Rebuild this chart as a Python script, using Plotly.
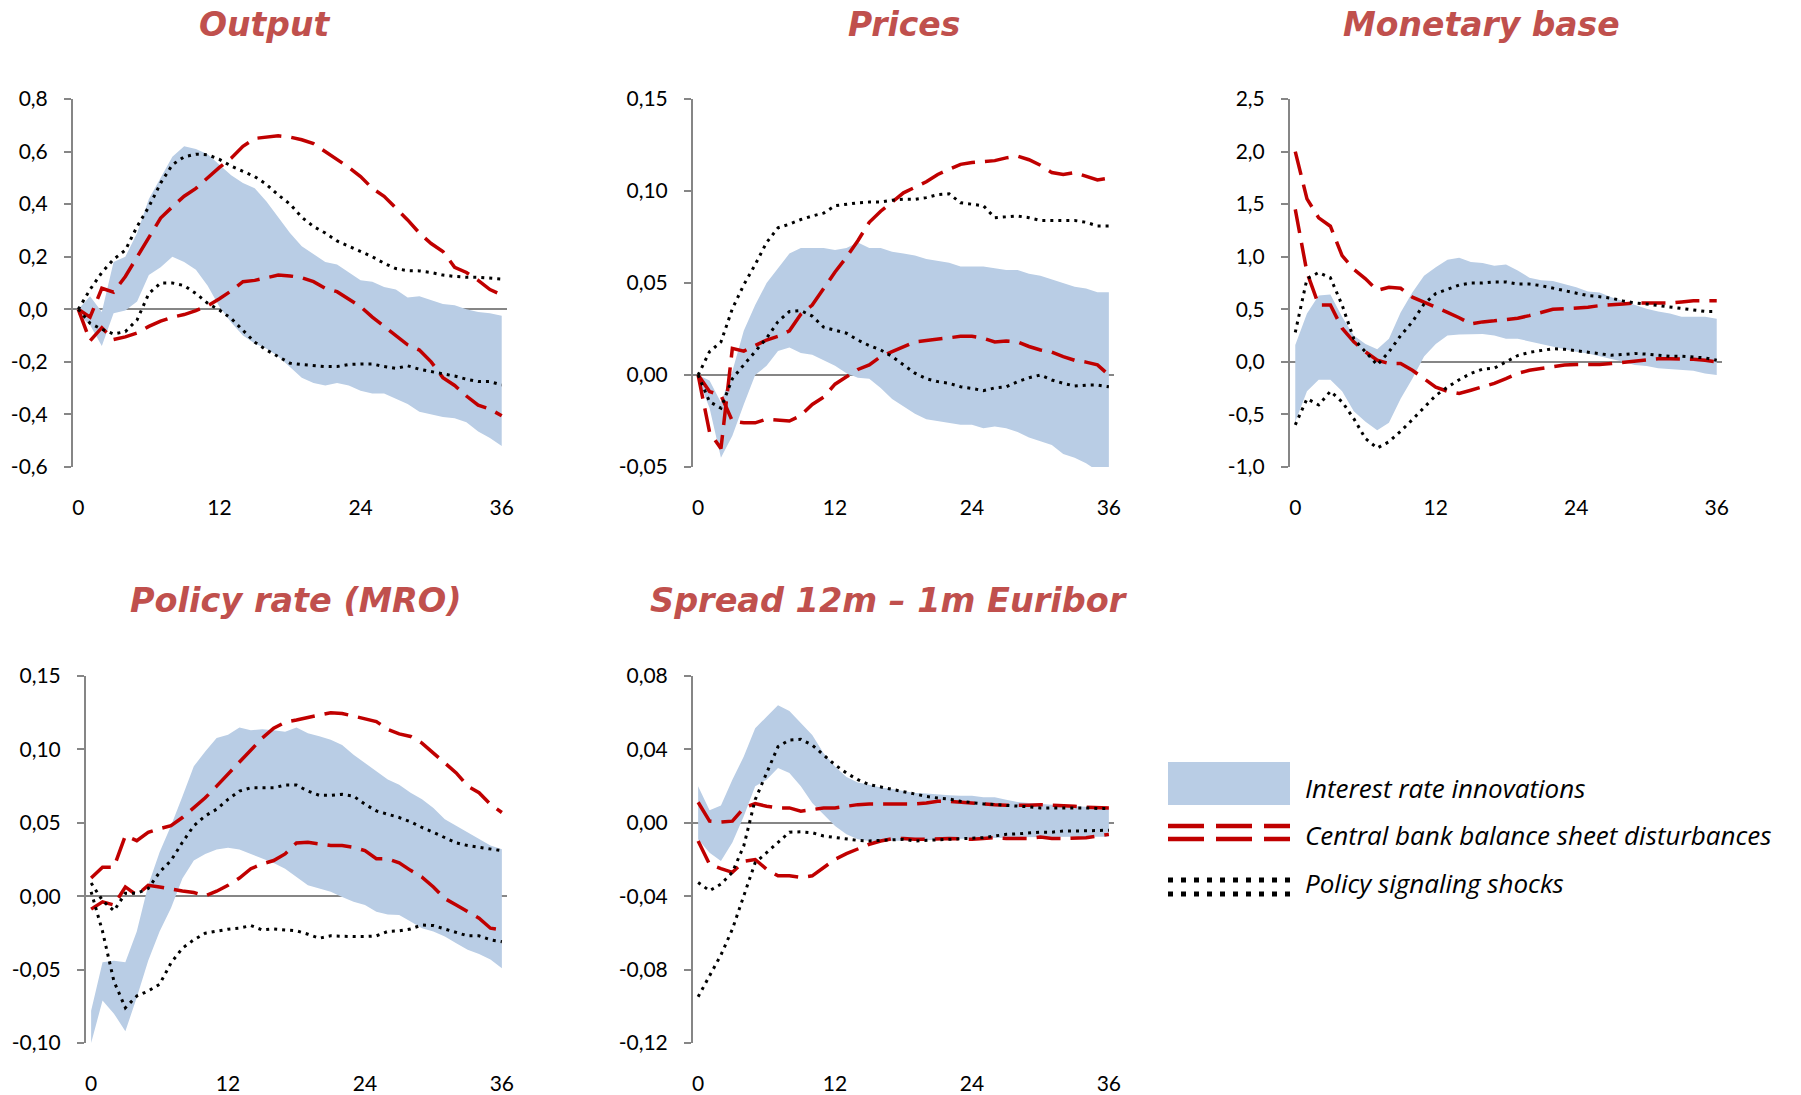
import plotly.graph_objects as go

months = list(range(37))

# ---------------- Output ----------------
out_band_lo = [-0.02, -0.06, -0.14, -0.015, -0.005, 0.03, 0.13, 0.16, 0.20, 0.18, 0.15, 0.09, 0.01, -0.05, -0.10, -0.13, -0.15, -0.18, -0.22, -0.26, -0.28, -0.29, -0.28, -0.29, -0.31, -0.32, -0.32, -0.34, -0.36, -0.39, -0.40, -0.41, -0.415, -0.43, -0.465, -0.49, -0.52]
out_band_hi = [0.0, 0.05, -0.01, 0.18, 0.20, 0.29, 0.42, 0.50, 0.58, 0.62, 0.61, 0.59, 0.55, 0.51, 0.48, 0.46, 0.41, 0.35, 0.29, 0.24, 0.21, 0.18, 0.17, 0.14, 0.11, 0.105, 0.085, 0.075, 0.045, 0.05, 0.035, 0.02, 0.015, 0.0, -0.01, -0.015, -0.025]
out_red_a = [0.0, -0.03, 0.08, 0.065, 0.125, 0.20, 0.277, 0.347, 0.39, 0.43, 0.46, 0.50, 0.54, 0.575, 0.62, 0.65, 0.655, 0.66, 0.655, 0.645, 0.63, 0.60, 0.57, 0.54, 0.505, 0.46, 0.43, 0.385, 0.34, 0.29, 0.25, 0.22, 0.16, 0.14, 0.11, 0.075, 0.055]
out_red_b = [0.0, -0.12, -0.07, -0.115, -0.105, -0.09, -0.065, -0.045, -0.03, -0.02, -0.005, 0.013, 0.04, 0.07, 0.105, 0.11, 0.12, 0.13, 0.127, 0.12, 0.105, 0.08, 0.067, 0.04, 0.01, -0.03, -0.066, -0.10, -0.135, -0.155, -0.20, -0.26, -0.29, -0.33, -0.365, -0.38, -0.405]
out_blk_a = [0.0, 0.075, 0.14, 0.19, 0.225, 0.315, 0.39, 0.48, 0.55, 0.58, 0.59, 0.588, 0.57, 0.545, 0.525, 0.505, 0.475, 0.435, 0.40, 0.35, 0.315, 0.29, 0.26, 0.24, 0.22, 0.20, 0.175, 0.155, 0.147, 0.146, 0.14, 0.13, 0.125, 0.122, 0.122, 0.118, 0.115]
out_blk_b = [0.0, -0.053, -0.076, -0.094, -0.085, -0.04, 0.06, 0.10, 0.10, 0.09, 0.06, 0.023, -0.003, -0.035, -0.08, -0.125, -0.155, -0.18, -0.205, -0.21, -0.215, -0.218, -0.218, -0.21, -0.208, -0.208, -0.218, -0.225, -0.215, -0.228, -0.237, -0.245, -0.254, -0.266, -0.275, -0.275, -0.288]

# ---------------- Prices ----------------
pr_band_hi = [0.0, -0.003, -0.015, 0.002, 0.024, 0.038, 0.050, 0.058, 0.066, 0.069, 0.069, 0.069, 0.068, 0.069, 0.072, 0.069, 0.069, 0.067, 0.066, 0.065, 0.063, 0.062, 0.061, 0.059, 0.059, 0.059, 0.058, 0.057, 0.057, 0.055, 0.054, 0.052, 0.050, 0.048, 0.047, 0.045, 0.045]
pr_band_lo = [-0.002, -0.018, -0.045, -0.033, -0.016, 0.0, 0.005, 0.013, 0.015, 0.012, 0.011, 0.008, 0.005, 0.001, -0.0015, -0.002, -0.007, -0.013, -0.017, -0.021, -0.024, -0.025, -0.026, -0.027, -0.027, -0.029, -0.028, -0.029, -0.031, -0.034, -0.036, -0.038, -0.043, -0.045, -0.048, -0.052, -0.052]
pr_red_a = [0.0, -0.031, -0.040, 0.0145, 0.013, 0.016, 0.019, 0.021, 0.024, 0.033, 0.038, 0.047, 0.056, 0.064, 0.073, 0.083, 0.089, 0.094, 0.099, 0.102, 0.105, 0.109, 0.112, 0.1145, 0.1155, 0.116, 0.1165, 0.118, 0.119, 0.117, 0.114, 0.110, 0.109, 0.110, 0.108, 0.106, 0.107]
pr_red_b = [0.0, -0.009, -0.011, -0.025, -0.026, -0.026, -0.024, -0.0245, -0.025, -0.022, -0.016, -0.012, -0.005, -0.001, 0.003, 0.0055, 0.010, 0.0127, 0.0155, 0.018, 0.0187, 0.0195, 0.020, 0.021, 0.021, 0.020, 0.018, 0.0185, 0.018, 0.0155, 0.0136, 0.0124, 0.010, 0.008, 0.007, 0.0055, 0.0]
pr_blk_a = [0.0, 0.0127, 0.018, 0.036, 0.049, 0.060, 0.072, 0.080, 0.082, 0.0845, 0.0864, 0.088, 0.092, 0.093, 0.0936, 0.094, 0.094, 0.095, 0.0955, 0.0955, 0.0964, 0.098, 0.0985, 0.0936, 0.0927, 0.092, 0.0855, 0.086, 0.0864, 0.0855, 0.084, 0.084, 0.084, 0.084, 0.083, 0.081, 0.081]
pr_blk_b = [0.0, -0.0145, -0.018, -0.002, 0.0055, 0.0127, 0.020, 0.029, 0.0345, 0.035, 0.032, 0.026, 0.0245, 0.0227, 0.019, 0.016, 0.0136, 0.010, 0.0055, 0.001, -0.002, -0.0036, -0.0045, -0.0064, -0.0073, -0.0085, -0.007, -0.0064, -0.0036, -0.0015, 0.0, -0.0027, -0.0045, -0.006, -0.0055, -0.0055, -0.0064]

# ---------------- Monetary base ----------------
mb_band_hi = [0.16, 0.46, 0.63, 0.64, 0.43, 0.25, 0.17, 0.12, 0.22, 0.47, 0.66, 0.82, 0.90, 0.97, 0.99, 0.95, 0.94, 0.915, 0.925, 0.87, 0.80, 0.775, 0.77, 0.74, 0.71, 0.67, 0.66, 0.615, 0.58, 0.54, 0.505, 0.48, 0.46, 0.43, 0.43, 0.43, 0.41]
mb_band_lo = [-0.57, -0.28, -0.17, -0.17, -0.28, -0.47, -0.57, -0.65, -0.58, -0.35, -0.16, 0.05, 0.17, 0.25, 0.26, 0.26, 0.265, 0.25, 0.22, 0.22, 0.195, 0.165, 0.14, 0.12, 0.095, 0.08, 0.054, 0.03, 0.0, -0.03, -0.04, -0.06, -0.07, -0.08, -0.085, -0.11, -0.125]
mb_red_a = [2.0, 1.55, 1.37, 1.29, 1.01, 0.88, 0.79, 0.68, 0.71, 0.70, 0.615, 0.57, 0.52, 0.47, 0.42, 0.36, 0.38, 0.39, 0.40, 0.415, 0.44, 0.47, 0.50, 0.505, 0.51, 0.52, 0.535, 0.54, 0.55, 0.56, 0.56, 0.56, 0.56, 0.57, 0.58, 0.58, 0.58]
mb_red_b = [1.45, 0.85, 0.54, 0.54, 0.32, 0.19, 0.095, 0.016, -0.016, -0.016, -0.08, -0.16, -0.24, -0.28, -0.30, -0.27, -0.24, -0.205, -0.16, -0.11, -0.08, -0.063, -0.047, -0.03, -0.025, -0.025, -0.025, -0.016, -0.006, 0.006, 0.022, 0.03, 0.03, 0.03, 0.025, 0.016, 0.0]
mb_blk_a = [0.28, 0.79, 0.85, 0.80, 0.54, 0.22, 0.095, -0.03, 0.095, 0.25, 0.38, 0.55, 0.65, 0.69, 0.73, 0.75, 0.75, 0.76, 0.76, 0.74, 0.74, 0.725, 0.70, 0.68, 0.655, 0.63, 0.62, 0.605, 0.58, 0.56, 0.55, 0.535, 0.52, 0.51, 0.49, 0.48, 0.48]
mb_blk_b = [-0.60, -0.35, -0.41, -0.28, -0.38, -0.54, -0.73, -0.82, -0.76, -0.66, -0.55, -0.44, -0.32, -0.24, -0.17, -0.11, -0.07, -0.06, 0.0, 0.06, 0.09, 0.11, 0.125, 0.12, 0.105, 0.09, 0.08, 0.063, 0.07, 0.08, 0.073, 0.063, 0.054, 0.054, 0.047, 0.038, 0.016]

# ---------------- Policy rate (MRO) ----------------
pol_band_hi = [-0.078, -0.045, -0.044, -0.045, -0.024, 0.0074, 0.030, 0.048, 0.068, 0.0885, 0.0986, 0.1077, 0.110, 0.115, 0.113, 0.1137, 0.113, 0.112, 0.115, 0.111, 0.109, 0.1065, 0.103, 0.0964, 0.0908, 0.085, 0.0795, 0.076, 0.0705, 0.066, 0.060, 0.0525, 0.048, 0.0435, 0.039, 0.0345, 0.032]
pol_band_lo = [-0.100, -0.071, -0.080, -0.092, -0.069, -0.044, -0.024, -0.008, 0.012, 0.0243, 0.0288, 0.0318, 0.033, 0.0318, 0.0288, 0.0255, 0.0227, 0.0187, 0.013, 0.0074, 0.0052, 0.003, -0.0005, -0.0038, -0.006, -0.0106, -0.0124, -0.0128, -0.0173, -0.0218, -0.024, -0.0275, -0.032, -0.0365, -0.0394, -0.0432, -0.049]
pol_red_a = [0.0124, 0.0198, 0.0198, 0.0412, 0.0378, 0.0435, 0.046, 0.048, 0.0536, 0.060, 0.067, 0.075, 0.083, 0.091, 0.0998, 0.1077, 0.1144, 0.1185, 0.120, 0.122, 0.1234, 0.125, 0.1245, 0.1227, 0.121, 0.119, 0.1137, 0.1106, 0.1088, 0.1043, 0.0975, 0.0908, 0.084, 0.075, 0.0705, 0.0626, 0.057]
pol_red_b = [-0.0088, -0.0038, -0.006, 0.0063, 0.0007, 0.0074, 0.0063, 0.0047, 0.0036, 0.0025, 0.0002, 0.0034, 0.0074, 0.0124, 0.0187, 0.022, 0.0243, 0.0288, 0.0363, 0.0367, 0.0356, 0.0345, 0.0345, 0.0333, 0.031, 0.0255, 0.0255, 0.0227, 0.0176, 0.013, 0.0063, -0.0016, -0.006, -0.0106, -0.015, -0.0218, -0.023]
pol_blk_a = [0.009, -0.003, -0.010, 0.002, 0.002, 0.0052, 0.0164, 0.0243, 0.0367, 0.048, 0.0547, 0.0592, 0.066, 0.0716, 0.0739, 0.0739, 0.0739, 0.0757, 0.0757, 0.0716, 0.0687, 0.0687, 0.0694, 0.0682, 0.0626, 0.0581, 0.0559, 0.0536, 0.0507, 0.0468, 0.0435, 0.040, 0.0363, 0.0345, 0.0333, 0.0322, 0.031]
pol_blk_b = [0.003, -0.024, -0.058, -0.076, -0.068, -0.0646, -0.060, -0.0455, -0.0354, -0.0297, -0.0252, -0.0236, -0.0225, -0.0218, -0.020, -0.023, -0.0223, -0.023, -0.0236, -0.0259, -0.0286, -0.027, -0.0275, -0.0275, -0.0275, -0.027, -0.024, -0.0236, -0.0223, -0.0196, -0.020, -0.0223, -0.0245, -0.027, -0.027, -0.0297, -0.031]

# ---------------- Spread 12m - 1m Euribor ----------------
spr_band_hi = [0.0199, 0.0069, 0.0094, 0.0235, 0.0361, 0.0515, 0.0578, 0.0641, 0.0609, 0.0542, 0.0479, 0.0379, 0.0307, 0.0249, 0.022, 0.0208, 0.0193, 0.0184, 0.0172, 0.0163, 0.0159, 0.0153, 0.015, 0.0148, 0.0148, 0.0139, 0.0139, 0.0126, 0.0114, 0.0108, 0.0105, 0.0099, 0.0094, 0.009, 0.0087, 0.0085, 0.0081]
spr_band_lo = [-0.009, -0.0163, -0.0208, -0.0108, 0.0036, 0.0199, 0.0235, 0.0298, 0.0271, 0.0199, 0.0108, 0.0045, -0.0018, -0.0063, -0.009, -0.0099, -0.0099, -0.0099, -0.0099, -0.0099, -0.0096, -0.009, -0.0087, -0.0087, -0.0085, -0.0085, -0.0081, -0.0081, -0.0079, -0.0078, -0.0076, -0.0076, -0.0076, -0.0076, -0.0076, -0.0076, -0.0076]
spr_red_a = [0.0112, 0.0009, 0.0004, 0.0009, 0.0081, 0.0105, 0.009, 0.0081, 0.0081, 0.0063, 0.0072, 0.0081, 0.0081, 0.009, 0.0099, 0.0103, 0.0103, 0.0103, 0.0103, 0.0103, 0.0108, 0.0117, 0.0117, 0.0112, 0.0105, 0.0103, 0.0099, 0.0096, 0.0094, 0.0096, 0.0099, 0.0096, 0.0096, 0.009, 0.0085, 0.0081, 0.0081]
spr_red_b = [-0.0099, -0.0226, -0.025, -0.027, -0.021, -0.020, -0.0253, -0.0289, -0.0289, -0.0298, -0.0289, -0.0244, -0.0199, -0.0168, -0.0141, -0.0117, -0.0099, -0.0087, -0.0085, -0.009, -0.009, -0.0087, -0.0085, -0.0087, -0.009, -0.0085, -0.0081, -0.0085, -0.0087, -0.0085, -0.0078, -0.0085, -0.0085, -0.0085, -0.0081, -0.0072, -0.0063]
spr_blk_a = [-0.0325, -0.037, -0.0334, -0.027, -0.0126, 0.0126, 0.0271, 0.0415, 0.0451, 0.0455, 0.0424, 0.037, 0.0316, 0.0271, 0.0235, 0.0208, 0.0195, 0.0181, 0.0168, 0.0159, 0.0144, 0.0135, 0.013, 0.0117, 0.0108, 0.0103, 0.0099, 0.0096, 0.009, 0.0087, 0.0081, 0.0081, 0.0081, 0.0085, 0.0081, 0.0078, 0.0078]
spr_blk_b = [-0.0948, -0.083, -0.072, -0.058, -0.0397, -0.0217, -0.0163, -0.0108, -0.0051, -0.0049, -0.0054, -0.0072, -0.0081, -0.009, -0.0096, -0.0099, -0.0096, -0.009, -0.009, -0.0099, -0.0096, -0.009, -0.0087, -0.0087, -0.0085, -0.0081, -0.0072, -0.0063, -0.006, -0.0054, -0.0051, -0.0051, -0.0045, -0.0045, -0.0045, -0.0042, -0.004]

titles = ["Output", "Prices", "Monetary base", "Policy rate (MRO)", "Spread 12m \u2013 1m Euribor"]
x_ticks = [0, 12, 24, 36]
x_tick_text = ["0", "12", "24", "36"]
y_ticks = [
    [-0.6, -0.4, -0.2, 0.0, 0.2, 0.4, 0.6, 0.8],
    [-0.05, 0.0, 0.05, 0.10, 0.15],
    [-1.0, -0.5, 0.0, 0.5, 1.0, 1.5, 2.0, 2.5],
    [-0.10, -0.05, 0.0, 0.05, 0.10, 0.15],
    [-0.12, -0.08, -0.04, 0.0, 0.04, 0.08],
]
y_tick_text = [
    ["-0,6", "-0,4", "-0,2", "0,0", "0,2", "0,4", "0,6", "0,8"],
    ["-0,05", "0,00", "0,05", "0,10", "0,15"],
    ["-1,0", "-0,5", "0,0", "0,5", "1,0", "1,5", "2,0", "2,5"],
    ["-0,10", "-0,05", "0,00", "0,05", "0,10", "0,15"],
    ["-0,12", "-0,08", "-0,04", "0,00", "0,04", "0,08"],
]
legend_labels = ["Interest rate innovations", "Central bank balance sheet disturbances", "Policy signaling shocks"]

panels = [
    (out_band_lo, out_band_hi, out_red_a, out_red_b, out_blk_a, out_blk_b),
    (pr_band_lo, pr_band_hi, pr_red_a, pr_red_b, pr_blk_a, pr_blk_b),
    (mb_band_lo, mb_band_hi, mb_red_a, mb_red_b, mb_blk_a, mb_blk_b),
    (pol_band_lo, pol_band_hi, pol_red_a, pol_red_b, pol_blk_a, pol_blk_b),
    (spr_band_lo, spr_band_hi, spr_red_a, spr_red_b, spr_blk_a, spr_blk_b),
]

# ---------------- styling / geometry ----------------
W, H = 1801, 1095
BAND = "#B9CDE5"
RED = "#C00000"
BLK = "#000000"
AXC = "#868686"
TITLE_C = "#C0504D"
RED_DASH = "24px,10px"
BLK_DOT = "3px,5px"

# plot-area pixel boxes: left, right, top, bottom
boxes = [(73, 507, 99, 467), (693, 1114, 99, 467), (1290, 1722, 99, 467),
         (86, 507, 676, 1043), (693, 1114, 676, 1043)]
title_pos = [(264, 25), (904, 25), (1481, 25), (296, 600), (889, 600)]
title_size = [33, 33, 33, 33.5, 33.5]

fig = go.Figure()
layout = dict(
    width=W, height=H, margin=dict(l=0, r=0, t=0, b=0, pad=0), autosize=False,
    paper_bgcolor="white", plot_bgcolor="white", showlegend=False,
    font=dict(family="Lato", size=21, color="#000000"),
)

for i, (lo, hi, ra, rb, ba, bb) in enumerate(panels):
    n = "" if i == 0 else str(i + 1)
    xa, ya = "x" + n, "y" + n
    fig.add_trace(go.Scatter(x=months, y=lo, xaxis=xa, yaxis=ya, mode="lines",
                             line=dict(width=0, color=BAND), hoverinfo="skip"))
    fig.add_trace(go.Scatter(x=months, y=hi, xaxis=xa, yaxis=ya, mode="lines",
                             line=dict(width=0, color=BAND), fill="tonexty",
                             fillcolor=BAND, name=legend_labels[0]))
    for s in (ra, rb):
        fig.add_trace(go.Scatter(x=months, y=s, xaxis=xa, yaxis=ya, mode="lines",
                                 line=dict(color=RED, width=3.5, dash=RED_DASH),
                                 name=legend_labels[1]))
    for s in (ba, bb):
        fig.add_trace(go.Scatter(x=months, y=s, xaxis=xa, yaxis=ya, mode="lines",
                                 line=dict(color=BLK, width=3, dash=BLK_DOT),
                                 name=legend_labels[2]))
    L, R, T, B = boxes[i]
    layout["xaxis" + n] = dict(
        domain=[L / W, R / W], range=[-0.45, 36.45], anchor=ya, automargin=False,
        showgrid=False, zeroline=False, showline=False, ticks="",
        tickvals=x_ticks, ticktext=x_tick_text, ticklabelstandoff=26,
        tickfont=dict(family="Lato", size=21, color="#000000"), fixedrange=True,
    )
    yv = y_ticks[i]
    layout["yaxis" + n] = dict(
        domain=[1 - B / H, 1 - T / H], range=[yv[0], yv[-1]], anchor=xa, automargin=False,
        showgrid=False, zeroline=True, zerolinecolor=AXC, zerolinewidth=2,
        showline=True, linecolor=AXC, linewidth=2, ticks="outside", ticklen=7,
        tickwidth=2, tickcolor=AXC, tickvals=yv, ticktext=y_tick_text[i],
        ticklabelstandoff=12,
        tickfont=dict(family="Lato", size=21, color="#000000"), fixedrange=True,
    )

annotations = []
for t, (tx, ty), ts in zip(titles, title_pos, title_size):
    annotations.append(dict(
        text=t, x=tx / W, y=1 - ty / H, xref="paper", yref="paper",
        xanchor="center", yanchor="middle", showarrow=False,
        font=dict(family="DejaVu Sans", size=ts, color=TITLE_C, weight="bold", style="italic"),
    ))

# legend (drawn manually to match the large key symbols)
lx0, lx1 = 1168, 1290
shapes = [dict(type="rect", xref="paper", yref="paper", x0=lx0 / W, x1=lx1 / W,
               y0=1 - 805 / H, y1=1 - 762 / H, fillcolor=BAND, line=dict(width=0))]
for yy in (826, 839):
    shapes.append(dict(type="line", xref="paper", yref="paper", x0=lx0 / W, x1=lx1 / W,
                       y0=1 - yy / H, y1=1 - yy / H,
                       line=dict(color=RED, width=4.5, dash="36px,12px")))
for yy in (880, 894):
    shapes.append(dict(type="line", xref="paper", yref="paper", x0=lx0 / W, x1=lx1 / W,
                       y0=1 - yy / H, y1=1 - yy / H,
                       line=dict(color=BLK, width=5, dash="5px,8px")))
for lab, yy in zip(legend_labels, (788, 835, 883)):
    annotations.append(dict(
        text=lab, x=1303 / W, y=1 - yy / H, xref="paper", yref="paper",
        xanchor="left", yanchor="middle", showarrow=False,
        font=dict(family="Open Sans", size=26, color="#000000", style="italic"),
    ))

layout["annotations"] = annotations
layout["shapes"] = shapes
fig.update_layout(**layout)
fig.write_html("out.html")
